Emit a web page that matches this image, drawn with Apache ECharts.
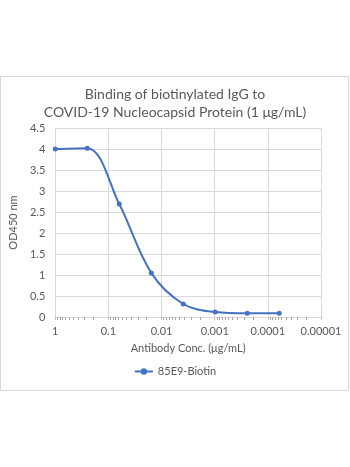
<!DOCTYPE html>
<html>
<head>
<meta charset="utf-8">
<script src="https://cdn.jsdelivr.net/npm/echarts@6/dist/echarts.min.js"></script>
<style>
  html, body { margin: 0; padding: 0; background: #fff; }
  #chart { width: 350px; height: 467px; }
</style>
</head>
<body>
<div id="chart"></div>
<script>
// Antibody concentrations (µg/mL), 4-fold dilutions
const concentrations = [1, 0.25, 0.0625, 0.015625, 0.00390625, 0.0009765625, 0.000244140625, 0.00006103515625];
// OD450 readings for 85E9-Biotin
const od450 = [4.0, 4.02, 2.69, 1.05, 0.31, 0.12, 0.09, 0.09];
// Tick labels on the log axis
const xTickLabels = ['1', '0.1', '0.01', '0.001', '0.0001', '0.00001'];

const chart = echarts.init(document.getElementById('chart'));
const font = 'Lato, "Open Sans", sans-serif';
const textColor = '#595959';

chart.setOption({
  animation: false,
  graphic: [{
    type: 'rect',
    shape: { x: 0.5, y: 76.5, width: 348, height: 314 },
    style: { fill: 'none', stroke: '#d9d9d9', lineWidth: 1 },
    silent: true
  }],
  title: {
    text: 'Binding of biotinylated IgG to\nCOVID-19 Nucleocapsid Protein (1 μg/mL)',
    left: 'center',
    top: 80,
    textStyle: { fontFamily: font, fontSize: 14, fontWeight: 'normal', color: textColor, lineHeight: 18, align: 'center' }
  },
  grid: { left: 52, right: 29, top: 128, bottom: 150 },
  xAxis: {
    type: 'log',
    logBase: 10,
    inverse: true,
    min: 0.00001,
    max: 1,
    name: 'Antibody Conc. (μg/mL)',
    nameLocation: 'middle',
    nameGap: 26,
    nameTextStyle: { fontFamily: font, fontSize: 11, color: textColor },
    axisLine: { lineStyle: { color: '#d9d9d9' } },
    axisTick: { show: true, length: 3, lineStyle: { color: '#bfbfbf' } },
    minorTick: { show: true, splitNumber: 10, length: 3, lineStyle: { color: '#a6a6a6' } },
    splitLine: { show: true, lineStyle: { color: '#d9d9d9' } },
    axisLabel: {
      fontFamily: font, fontSize: 11, color: textColor, margin: 9,
      formatter: v => xTickLabels[Math.round(-Math.log10(v))]
    }
  },
  yAxis: {
    type: 'value',
    min: 0,
    max: 4.5,
    interval: 0.5,
    name: 'OD450 nm',
    nameLocation: 'middle',
    nameGap: 29,
    nameTextStyle: { fontFamily: font, fontSize: 11, color: textColor },
    axisLine: { show: false },
    axisTick: { show: false },
    splitLine: { lineStyle: { color: '#d9d9d9' } },
    axisLabel: { fontFamily: font, fontSize: 11, color: textColor, margin: 10 }
  },
  legend: {
    bottom: 85,
    left: 'center',
    itemWidth: 18,
    itemHeight: 8,
    itemGap: 5,
    textStyle: { fontFamily: font, fontSize: 11, color: textColor },
    data: ['85E9-Biotin']
  },
  series: [{
    name: '85E9-Biotin',
    type: 'line',
    smooth: 0.35,
    symbol: 'circle',
    symbolSize: 5,
    itemStyle: { color: '#4472C4' },
    lineStyle: { color: '#4472C4', width: 2 },
    data: concentrations.map((c, i) => [c, od450[i]])
  }]
});
</script>
</body>
</html>
